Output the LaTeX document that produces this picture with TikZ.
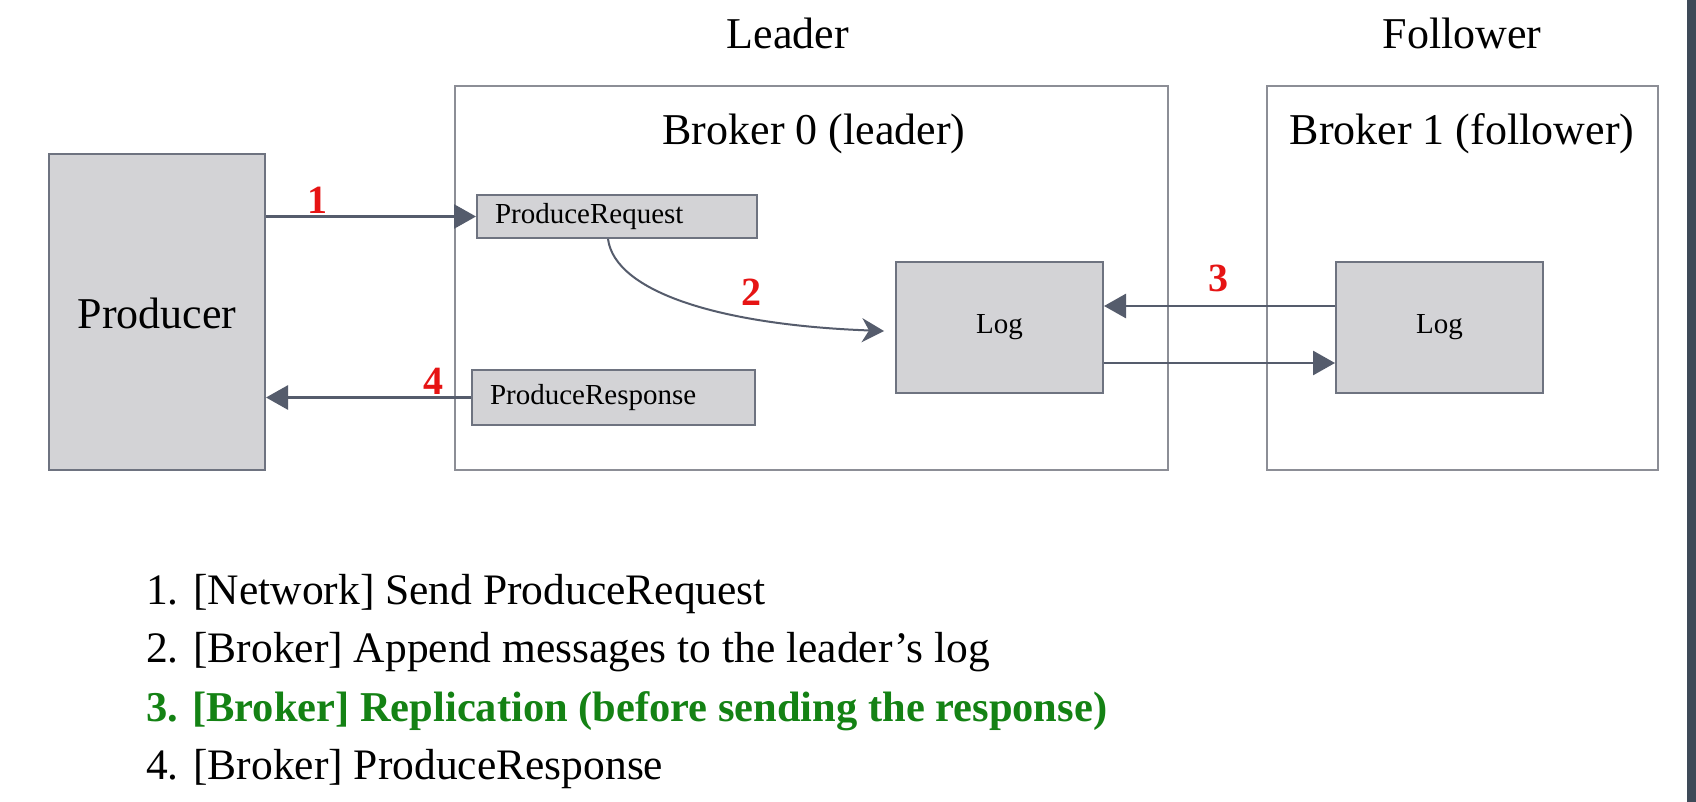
\documentclass[tikz,border=0pt]{standalone}
\usepackage{fontspec}
\setmainfont{Liberation Serif}
\usetikzlibrary{arrows.meta}
\definecolor{boxfill}{RGB}{211,211,214}
\definecolor{boxline}{RGB}{110,115,128}
\definecolor{contline}{RGB}{140,142,150}
\definecolor{arrowc}{RGB}{85,92,108}
\definecolor{numred}{RGB}{230,20,20}
\definecolor{stepgreen}{RGB}{20,130,20}
\definecolor{sidebar}{RGB}{62,74,88}
\tikzset{
  bigfont/.style={font=\fontsize{44}{52}\selectfont},
  listfont/.style={font=\fontsize{43.5}{52}\selectfont},
  smallfont/.style={font=\fontsize{29}{34}\selectfont},
  container/.style={draw=contline, line width=1.5pt, fill=white, inner sep=0pt},
  graybox/.style={draw=boxline, line width=2pt, fill=boxfill, inner sep=0pt},
  numlabel/.style={text=numred, font=\fontsize{40}{46}\selectfont\bfseries, inner sep=0pt},
  flow/.style={draw=arrowc, line width=2.8pt, -{Triangle[length=22pt,width=24pt]}},
  curveflow/.style={draw=arrowc, line width=2pt, -{Stealth[length=22pt,width=24pt,inset=7pt]}},
  listitem/.style={listfont, anchor=base west, inner sep=0pt},
}
\begin{document}
\begin{tikzpicture}[x=1pt,y=-1pt]
\useasboundingbox (0,0) rectangle (1696,802);
\fill[white] (0,0) rectangle (1696,802);
\fill[sidebar] (1687,0) rectangle (1696,802);

% containers
\node[container, minimum width=713pt, minimum height=384pt] (b0) at (811.5,278) {};
\node[container, minimum width=391pt, minimum height=384pt] (b1) at (1462.5,278) {};

% titles
\node[bigfont, anchor=base, inner sep=0pt] (leader) at (788,49) {Leader};
\node[bigfont, anchor=base, inner sep=0pt] (follower) at (1462,49) {Follower};
\node[bigfont, anchor=base, inner sep=0pt] (b0t) at (814,145) {Broker 0 (leader)};
\node[bigfont, anchor=base, inner sep=0pt] (b1t) at (1462,145) {Broker 1 (follower)};

% producer
\node[graybox, minimum width=216pt, minimum height=316pt] (prod) at (157,312) {};
\node[bigfont, anchor=base, inner sep=0pt] (prodt) at (157,328) {Producer};

% request / response
\node[graybox, smallfont, text width=244pt, align=left, inner xsep=18pt, minimum height=43pt] (req) at (617,216.5) {ProduceRequest};
\node[graybox, smallfont, text width=247pt, align=left, inner xsep=18pt, minimum height=55pt] (resp) at (613.5,397.5) {ProduceResponse};

% logs
\node[graybox, smallfont, minimum width=207pt, minimum height=131pt] (logL) at (999.5,327.5) {Log};
\node[graybox, smallfont, minimum width=207pt, minimum height=131pt] (logF) at (1439.5,327.5) {Log};

% arrows
\coordinate (c2end) at (884,331);
\draw[flow] (prod.east |- req.west) -- (req.west);
\draw[flow] (resp.west) -- (resp.west -| prod.east);
\draw[curveflow] (req.south -| 608,0) .. controls (615,292) and (720,325) .. (c2end);
\draw[flow] (logF.west |- 0,306) -- (logL.east |- 0,306);
\draw[flow] (logL.east |- 0,363) -- (logF.west |- 0,363);

% numbers
\node[numlabel] (n1) at (317,200) {1};
\node[numlabel] (n2) at (751,292) {2};
\node[numlabel] (n3) at (1218,278) {3};
\node[numlabel] (n4) at (433,381) {4};

% list
\node[listitem] (l1) at (146,604) {1. [Network] Send ProduceRequest};
\node[listitem] (l2) at (146,662.5) {2. [Broker] Append messages to the leader’s log};
\node[listitem, text=stepgreen, font=\fontsize{42.5}{52}\selectfont\bfseries] (l3) at (146,721) {3. [Broker] Replication (before sending the response)};
\node[listitem] (l4) at (146,779.5) {4. [Broker] ProduceResponse};
\end{tikzpicture}
\end{document}
